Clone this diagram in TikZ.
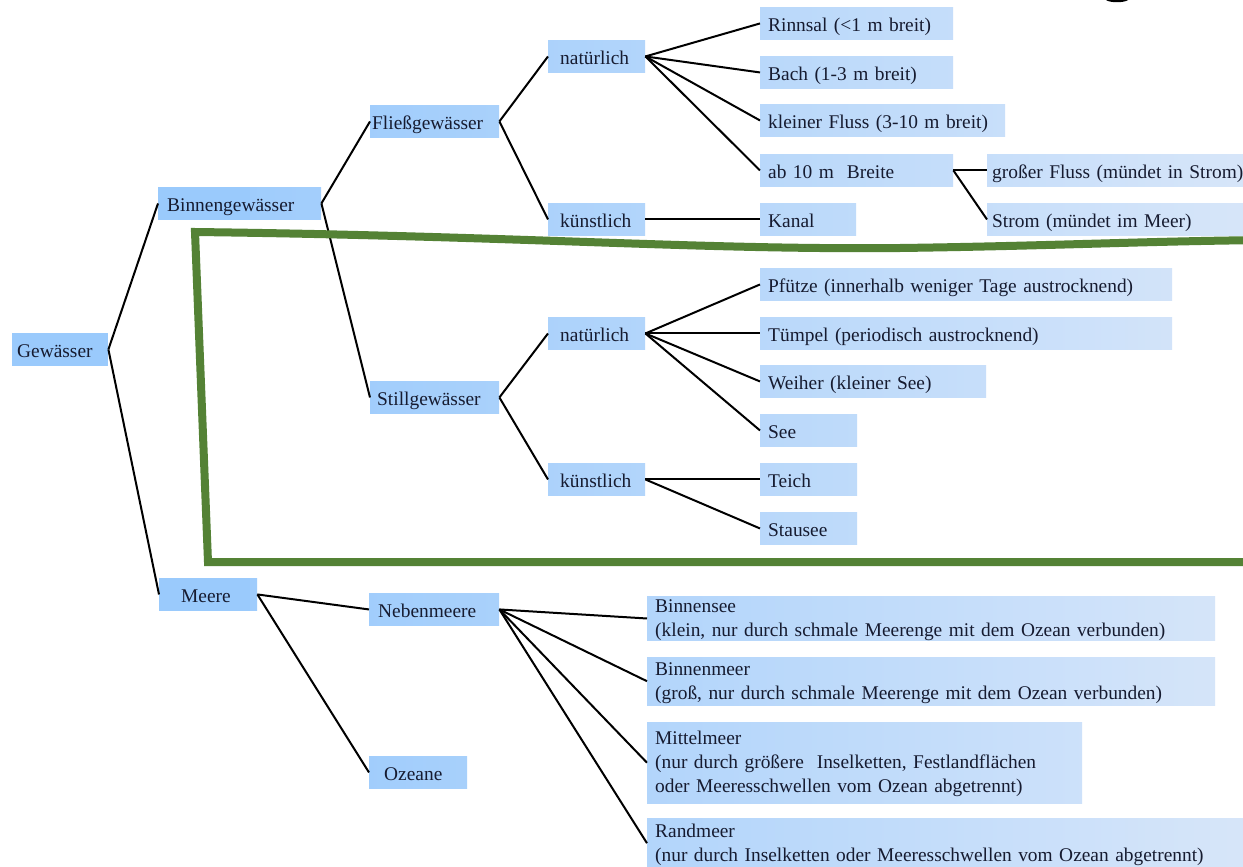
\documentclass[tikz,border=0pt]{standalone}
\usepackage{fontspec}
\setmainfont{Liberation Serif}
\hyphenpenalty=10000
\exhyphenpenalty=10000

\definecolor{boxdark}{RGB}{154,202,252}
\definecolor{boxlight}{RGB}{218,231,249}
\definecolor{textnavy}{RGB}{22,27,48}
\definecolor{framegreen}{RGB}{84,130,53}

\tikzset{
  box/.style={anchor=north west, fill=boxdark, text=textnavy, align=left,
    inner ysep=0pt, text height=16.4pt,
    path picture={\shade[left color=boxdark, right color=boxlight] (gradl) rectangle (gradr);}},
  cell/.style={box, minimum height=32.5pt, text depth=1pt},
  wd/.style 2 args={text width=#1pt-2*#2pt, inner xsep=#2pt},
  frame/.style={draw=framegreen, line width=8pt, line join=miter}
}

\begin{document}
\begin{tikzpicture}[x=1pt, y=-1pt, font=\fontsize{19.4}{24}\selectfont]
      \useasboundingbox (0,0) rectangle (1243,867);
      \fill[white] (0,0) rectangle (1243,867);
      \clip (0,0) rectangle (1243,867);
      \coordinate (gradl) at (250,0);
      \coordinate (gradr) at (1300,867);
      % first levels
      \node[cell, wd={96}{5}] (ge) at (12,333) {Gewässer};
      \node[cell, wd={163}{9}] (bg) at (158,187) {Binnengewässer};
      \node[cell, wd={98}{22}] (me) at (159,578) {Meere};
      \node[cell, wd={129}{2}] (fg) at (370,105) {Fließgewässer};
      \node[cell, wd={129}{7}] (sg) at (370,381) {Stillgewässer};
      \node[cell, wd={130}{9}] (nm) at (369,593) {Nebenmeere};
      \node[cell, wd={98}{15}] (oz) at (369,756) {Ozeane};
      \node[cell, wd={97}{12}] (fn) at (548,40) {natürlich};
      \node[cell, wd={97}{12}] (fk) at (548,203) {künstlich};
      \node[cell, wd={97}{12}] (sn) at (548,317) {natürlich};
      \node[cell, wd={97}{12}] (sk) at (548,463) {künstlich};
      % Fliessgewaesser
      \node[cell, wd={193}{8}] (ri) at (760,7) {Rinnsal (<1 m breit)};
      \node[cell, wd={193}{8}] (ba) at (760,56) {Bach (1-3 m breit)};
      \node[cell, wd={245}{8}] (kf) at (760,104) {kleiner Fluss (3-10 m breit)};
      \node[cell, wd={193}{8}] (ab) at (760,154) {ab 10 m\ \ Breite};
      \node[cell, wd={96}{8}] (ka) at (760,203) {Kanal};
      \node[cell, wd={270}{5}] (gf) at (987,154) {großer Fluss (mündet in Strom)};
      \node[cell, wd={270}{5}] (st) at (987,203) {Strom (mündet im Meer)};
      % Stillgewaesser
      \node[cell, wd={412}{8}] (pf) at (760,268) {Pfütze (innerhalb weniger Tage austrocknend)};
      \node[cell, wd={412}{8}] (tu) at (760,317) {Tümpel (periodisch austrocknend)};
      \node[cell, wd={226}{8}] (wh) at (760,365) {Weiher (kleiner See)};
      \node[cell, wd={97}{8}] (se) at (760,414) {See};
      \node[cell, wd={97}{8}] (te) at (760,463) {Teich};
      \node[cell, wd={97}{8}] (sa) at (760,512) {Stausee};
      % Nebenmeere
      \node[box, wd={568}{8}, minimum height=44pt] (bs) at (647,596)
        {Binnensee\\(klein, nur durch schmale Meerenge mit dem Ozean verbunden)};
      \node[box, wd={568}{8}, minimum height=48pt] (bm) at (647,657)
        {Binnenmeer\\(groß, nur durch schmale Meerenge mit dem Ozean verbunden)};
      \node[box, wd={435}{8}, minimum height=81pt] (mm) at (647,722)
        {Mittelmeer\\(nur durch größere\ \ Inselketten, Festlandflächen\\oder Meeresschwellen vom Ozean abgetrennt)};
      \node[box, wd={600}{8}, minimum height=50pt] (rm) at (647,818)
        {Randmeer\\(nur durch Inselketten oder Meeresschwellen vom Ozean abgetrennt)};
      \begin{scope}[line width=2pt]
        \draw (ge.east) to (bg.west);
        \draw (ge.east) to (me.west);
        \draw (bg.east) to (fg.west);
        \draw (bg.east) to (sg.west);
        \draw (me.east) to (nm.west);
        \draw (me.east) to (oz.west);
        \draw (fg.east) to (fn.west);
        \draw (fg.east) to (fk.west);
        \draw (sg.east) to (sn.west);
        \draw (sg.east) to (sk.west);
        \draw (fn.east) to (ri.west);
        \draw (fn.east) to (ba.west);
        \draw (fn.east) to (kf.west);
        \draw (fn.east) to (ab.west);
        \draw (fk.east) to (ka.west);
        \draw (ab.east) to (gf.west);
        \draw (ab.east) to (st.west);
        \draw (sn.east) to (pf.west);
        \draw (sn.east) to (tu.west);
        \draw (sn.east) to (wh.west);
        \draw (sn.east) to (se.west);
        \draw (sk.east) to (te.west);
        \draw (sk.east) to (sa.west);
        \draw (nm.east) to (bs.west);
        \draw (nm.east) to (bm.west);
        \draw (nm.east) to (mm.west);
        \draw (nm.east) to (rm.west);
      \end{scope}
      % green frame
      \draw[frame] (1270,562) -- (208,562) -- (195,232)
        .. controls (520,236) and (700,250) .. (900,248)
        .. controls (1050,246) and (1150,241) .. (1270,240);
      \fill (1106,0) .. controls (1110,3) and (1124,3) .. (1128,0) -- cycle;
    \end{tikzpicture}
\end{document}
